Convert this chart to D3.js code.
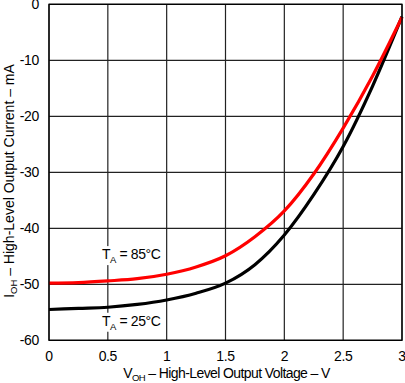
<!DOCTYPE html>
<html><head><meta charset="utf-8">
<script src="https://cdn.jsdelivr.net/npm/d3@7"></script>
<style>body{margin:0;background:#fff}svg{display:block}text{font-family:"Liberation Sans",Arial,sans-serif}</style>
</head><body>
<svg id="c" width="405" height="383"></svg>
<script>
const voltage = [0,0.25,0.5,0.75,1,1.25,1.5,1.75,2,2.25,2.5,2.75,3];
const current85 = [-49.8,-49.7,-49.4,-49.0,-48.2,-46.9,-44.9,-41.5,-36.9,-30.3,-22.1,-12.8,-2.3];
const current25 = [-54.5,-54.3,-54.1,-53.6,-52.8,-51.6,-49.8,-46.5,-41.2,-34.0,-25.4,-14.6,-2.2];
const xTicks = [0,0.5,1,1.5,2,2.5,3];
const yTicks = [0,-10,-20,-30,-40,-50,-60];
const seriesNames = ["85°C","25°C"];

const svg = d3.select("#c");
const m = {l:49, r:3, t:4.3, b:42.7};
const W = 405, H = 383;
const x = d3.scaleLinear().domain([0,3]).range([m.l, W-m.r]);
const y = d3.scaleLinear().domain([-60,0]).range([H-m.b, m.t]);

// grid
const g = svg.append("g");
g.selectAll(".vx").data(xTicks).enter().append("line")
  .attr("x1",d=>x(d)).attr("x2",d=>x(d)).attr("y1",y(-60)).attr("y2",y(0))
  .attr("stroke","#222").attr("stroke-width",1.2);
g.selectAll(".hy").data(yTicks).enter().append("line")
  .attr("y1",d=>y(d)).attr("y2",d=>y(d)).attr("x1",x(0)).attr("x2",x(3))
  .attr("stroke","#222").attr("stroke-width",1.2);

// tick labels
svg.selectAll(".xt").data(xTicks).enter().append("text")
  .attr("x",d=>x(d)).attr("y",y(-60)+20.5).attr("text-anchor","middle")
  .attr("font-size",14).attr("letter-spacing",-0.4).text(d=>d);
svg.selectAll(".yt").data(yTicks).enter().append("text")
  .attr("x",x(0)-10).attr("y",d=>y(d)+5).attr("text-anchor","end")
  .attr("font-size",14).attr("letter-spacing",-0.3).text(d=>d);

// annotation labels with white background
function label(vx, vy, sub) {
  const t = svg.append("text").attr("x",x(vx)).attr("y",y(vy)).attr("font-size",14).attr("letter-spacing",-0.4);
  t.append("tspan").text("T");
  t.append("tspan").attr("font-size",9.5).attr("dy",4).text("A");
  t.append("tspan").attr("dy",-4).text(" = " + sub);
  const bb = t.node().getBBox();
  svg.insert("rect", function(){return t.node();}).attr("x",bb.x-1).attr("y",bb.y).attr("width",bb.width+2).attr("height",bb.height).attr("fill","#fff");
}

// curves
const line = d3.line().x(d=>x(d[0])).y(d=>y(d[1])).curve(d3.curveMonotoneX);
svg.append("path").datum(voltage.map((v,i)=>[v,current25[i]]))
  .attr("d",line).attr("fill","none").attr("stroke","#000").attr("stroke-width",3.2);
svg.append("path").datum(voltage.map((v,i)=>[v,current85[i]]))
  .attr("d",line).attr("fill","none").attr("stroke","#f00").attr("stroke-width",3.2);

label(0.45,-45.5,seriesNames[0]);
label(0.45,-57.4,seriesNames[1]);

// frame
svg.append("rect").attr("x",x(0)).attr("y",y(0)).attr("width",x(3)-x(0)).attr("height",y(-60)-y(0))
  .attr("fill","none").attr("stroke","#000").attr("stroke-width",1.3);

// axis titles
const xt = svg.append("text").attr("x",226.5).attr("y",378).attr("text-anchor","middle").attr("font-size",14).attr("letter-spacing",-0.6);
xt.append("tspan").text("V");
xt.append("tspan").attr("font-size",9.5).attr("dy",2.5).text("OH");
xt.append("tspan").attr("dy",-2.5).text(" – High-Level Output Voltage – V");

const yt = svg.append("text").attr("transform",`translate(13.5,181) rotate(-90)`).attr("text-anchor","middle").attr("font-size",14);
yt.append("tspan").text("I");
yt.append("tspan").attr("font-size",9.5).attr("dy",3).text("OH");
yt.append("tspan").attr("dy",-3).text(" – High-Level Output Current – mA");
</script>
</body></html>
